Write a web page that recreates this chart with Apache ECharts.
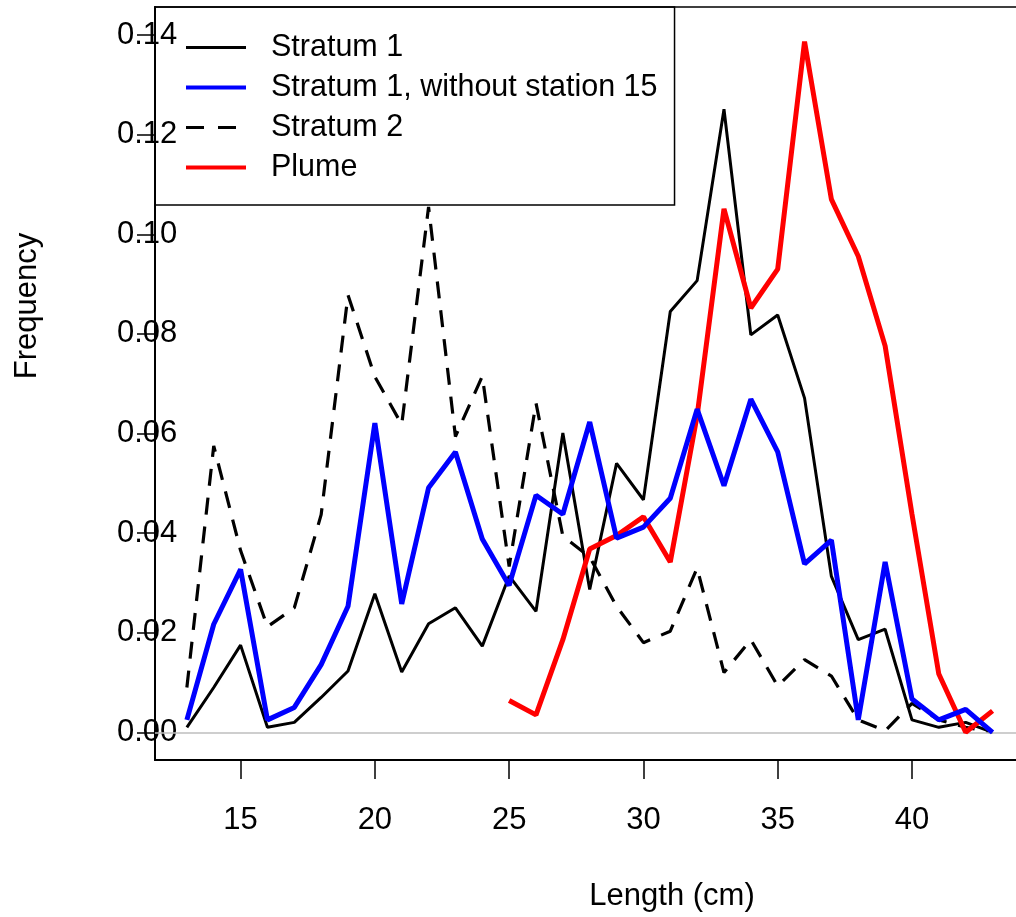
<!DOCTYPE html>
<html>
<head>
<meta charset="utf-8">
<script src="https://cdn.jsdelivr.net/npm/echarts@6/dist/echarts.min.js"></script>
<style>
html,body{margin:0;padding:0;background:#fff;}
#chart{width:1016px;height:917px;}
</style>
</head>
<body>
<div id="chart"></div>
<script>
// Length classes (cm)
var lengths = [13,14,15,16,17,18,19,20,21,22,23,24,25,26,27,28,29,30,31,32,33,34,35,36,37,38,39,40,41,42,43];
// Stratum 1
var stratum1 = [0.001,0.009,0.0175,0.001,0.002,0.007,0.0123,0.0278,0.0121,0.0218,0.025,0.0173,0.0314,0.0243,0.0601,0.0287,0.054,0.0467,0.0845,0.0907,0.1251,0.0798,0.0838,0.0671,0.0313,0.0186,0.0207,0.0025,0.001,0.002,0.0];
// Stratum 1, without station 15
var stratum1No15 = [0.0025,0.0217,0.0327,0.0025,0.005,0.0136,0.0253,0.0621,0.0258,0.0491,0.0563,0.0388,0.0295,0.0476,0.0438,0.0623,0.039,0.0412,0.047,0.0649,0.0495,0.0669,0.0563,0.0338,0.0386,0.0025,0.0342,0.0067,0.0025,0.0046,0.0];
// Stratum 2
var stratum2 = [0.009,0.0575,0.0365,0.0212,0.025,0.0437,0.0878,0.0714,0.0618,0.1055,0.0594,0.0715,0.0333,0.0661,0.0394,0.0352,0.0253,0.018,0.0203,0.033,0.012,0.0186,0.0093,0.0146,0.0113,0.0025,0.0003,0.0058,0.0025,0.001,0.0];
// Plume (lengths 25..43)
var plumeLengths = [25,26,27,28,29,30,31,32,33,34,35,36,37,38,39,40,41,42,43];
var plume = [0.0064,0.0035,0.0186,0.0368,0.0395,0.0433,0.0342,0.0636,0.1051,0.0852,0.093,0.1387,0.107,0.0956,0.0776,0.0438,0.0117,0.0,0.0043];
// Tick values
var xTicks = [15,20,25,30,35,40];
var yTicks = [0,0.02,0.04,0.06,0.08,0.10,0.12,0.14];

function pairs(xs, ys){ return xs.map(function(x,i){ return [x, ys[i]]; }); }

var FONT = 'Liberation Sans, Arial, sans-serif';
var FS = 31;
var chart = echarts.init(document.getElementById('chart'), null, {renderer:'canvas'});
chart.setOption({
  animation: false,
  backgroundColor: '#ffffff',
  grid: {
    left: 155, top: 7, width: 869.5, height: 753,
    outerBoundsMode: 'none', containLabel: false,
    show: true, borderColor: '#000', borderWidth: 1.5, backgroundColor: 'transparent'
  },
  xAxis: {
    type: 'value', min: 11.813, max: 44.19,
    axisLine: {show: true, onZero: false, lineStyle: {color: '#000', width: 2}},
    axisTick: {show: true, customValues: xTicks, length: 19, lineStyle: {color: '#000', width: 1.5}},
    axisLabel: {customValues: xTicks, margin: 45, fontFamily: FONT, fontSize: FS, color: '#000'},
    splitLine: {show: false}
  },
  yAxis: {
    type: 'value', min: -0.00556, max: 0.14564,
    axisLine: {show: true, onZero: false, lineStyle: {color: '#000', width: 2}},
    axisTick: {show: true, customValues: yTicks, length: 18, lineStyle: {color: '#000', width: 1.5}},
    axisLabel: {
      customValues: yTicks, margin: -22.3, fontFamily: FONT, fontSize: FS, color: '#000',
      padding: [10,0,0,0],
      formatter: function(v){ return v.toFixed(2); }
    },
    splitLine: {show: false}
  },
  legend: {
    left: 155, top: 7, orient: 'vertical',
    data: [
      {name: 'Stratum 1', itemStyle: {opacity: 0}, lineStyle: {color: '#000', width: 3}},
      {name: 'Stratum 1, without station 15', itemStyle: {opacity: 0}, lineStyle: {color: '#0000ff', width: 4}},
      {name: 'Stratum 2', itemStyle: {opacity: 0}, lineStyle: {color: '#000', width: 3, type: [18, 14]}},
      {name: 'Plume', itemStyle: {opacity: 0}, lineStyle: {color: '#ff0000', width: 4}}
    ],
    padding: [25, 17, 22, 29],
    itemWidth: 60, itemHeight: 14, itemGap: 9,
    borderColor: '#000', borderWidth: 1.5, backgroundColor: 'transparent',
    textStyle: {fontFamily: FONT, fontSize: 30.5, color: '#000', lineHeight: 30.5, padding: [0,0,0,20]},
    selectedMode: false
  },
  series: [
    {
      name: 'Stratum 1', type: 'line', data: pairs(lengths, stratum1),
      symbol: 'none', z: 3,
      lineStyle: {color: '#000', width: 3},
      itemStyle: {color: '#000'},
      markLine: {
        silent: true, symbol: 'none', label: {show: false},
        lineStyle: {color: '#bebebe', type: 'solid', width: 1.5},
        data: [{yAxis: 0}]
      }
    },
    {
      name: 'Stratum 2', type: 'line', data: pairs(lengths, stratum2),
      symbol: 'none', z: 4,
      lineStyle: {color: '#000', width: 3.2, type: [17, 12]},
      itemStyle: {color: '#000'}
    },
    {
      name: 'Plume', type: 'line', data: pairs(plumeLengths, plume),
      symbol: 'none', z: 5,
      lineStyle: {color: '#ff0000', width: 5},
      itemStyle: {color: '#ff0000'}
    },
    {
      name: 'Stratum 1, without station 15', type: 'line', data: pairs(lengths, stratum1No15),
      symbol: 'none', z: 6,
      lineStyle: {color: '#0000ff', width: 5},
      itemStyle: {color: '#0000ff'}
    }
  ],
  graphic: [
    {type: 'text', x: 672, y: 896, style: {text: 'Length (cm)', font: FS + 'px ' + FONT, fill: '#000', align: 'center', verticalAlign: 'middle'}},
    {type: 'text', x: 27, y: 306, rotation: Math.PI/2, style: {text: 'Frequency', font: FS + 'px ' + FONT, fill: '#000', align: 'center', verticalAlign: 'middle'}}
  ]
});
</script>
</body>
</html>
